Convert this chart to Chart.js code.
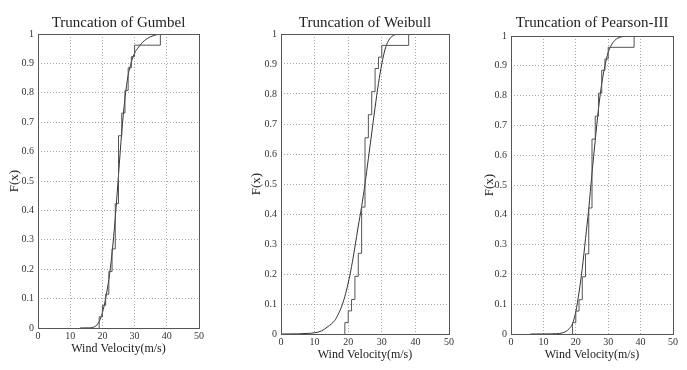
<!DOCTYPE html>
<html>
<head>
<meta charset="utf-8">
<script src="https://cdn.jsdelivr.net/npm/chart.js@4/dist/chart.umd.min.js"></script>
<style>
  html, body { margin: 0; padding: 0; background: #fff; }
  body { width: 687px; height: 370px; position: relative; overflow: hidden; }
  canvas { position: absolute; top: 0; }
</style>
</head>
<body>
<canvas id="gumbel" width="230" height="370" style="left:0px"></canvas>
<canvas id="weibull" width="230" height="370" style="left:230px"></canvas>
<canvas id="pearson" width="227" height="370" style="left:460px"></canvas>
<script>
// empirical distribution of the sample (same in all three panels)
const stepX = [19, 19, 20, 21, 22, 23, 24, 25, 26, 27, 28, 29, 30, 38]
const stepF = [0, 0.038, 0.077, 0.115, 0.192, 0.269, 0.423, 0.654, 0.731, 0.808, 0.885, 0.923, 0.962, 1]

// fitted (truncated) curves
const gumbelX = [13, 16, 17, 18, 19, 20, 21, 22, 23, 24, 25, 26, 27, 28, 29, 30, 31, 32, 33, 34, 35, 36, 37, 38, 40]
const gumbelF = [0, 0.0005, 0.002, 0.007, 0.022, 0.052, 0.1, 0.165, 0.255, 0.375, 0.52, 0.665, 0.78, 0.86, 0.905, 0.935, 0.952, 0.966, 0.977, 0.985, 0.991, 0.995, 0.998, 1, 1]

const weibullX = [0, 5, 8, 10, 12, 14, 16, 17, 18, 19, 20, 21, 22, 23, 24, 25, 26, 27, 28, 29, 30, 31, 32, 33, 34, 35, 36, 38]
const weibullF = [0, 0.0005, 0.002, 0.004, 0.01, 0.025, 0.045, 0.065, 0.09, 0.125, 0.17, 0.225, 0.29, 0.36, 0.425, 0.5, 0.585, 0.67, 0.755, 0.835, 0.9, 0.95, 0.978, 0.992, 0.998, 1, 1, 1]

const pearsonX = [6, 12, 14, 16, 17, 18, 19, 20, 21, 22, 23, 24, 25, 26, 27, 28, 29, 30, 31, 32, 33, 34, 35, 36, 38]
const pearsonF = [0, 0.0003, 0.001, 0.004, 0.009, 0.018, 0.035, 0.075, 0.14, 0.22, 0.32, 0.42, 0.54, 0.65, 0.755, 0.84, 0.9, 0.945, 0.97, 0.985, 0.993, 0.997, 0.999, 1, 1]

const xTicks = [0, 10, 20, 30, 40, 50]
const yTicks = [0, 0.1, 0.2, 0.3, 0.4, 0.5, 0.6, 0.7, 0.8, 0.9, 1]

const serif = "'Liberation Serif', 'DejaVu Serif', serif"

function toPoints(xs, ys) {
  return xs.map((x, i) => ({ x: x, y: ys[i] }))
}

// box around the plot area, like the matlab axes
const frame = {
  id: 'frame',
  afterDatasetsDraw(chart) {
    const { left, top, right, bottom } = chart.chartArea
    const ctx = chart.ctx
    ctx.save()
    ctx.strokeStyle = '#555'
    ctx.lineWidth = 1
    ctx.strokeRect(Math.round(left) + 0.5, Math.round(top) + 0.5, Math.round(right - left), Math.round(bottom - top))
    ctx.restore()
  }
}

function drawPanel(id, title, curveX, curveF, box) {
  return new Chart(document.getElementById(id), {
    type: 'scatter',
    data: {
      datasets: [
        {
          label: 'empirical',
          data: toPoints(stepX, stepF),
          showLine: true,
          // chart.js 'before': horizontal run first, then the jump
          stepped: 'before',
          borderColor: '#555',
          borderWidth: 1,
          pointRadius: 0
        },
        {
          label: 'fitted',
          data: toPoints(curveX, curveF),
          showLine: true,
          cubicInterpolationMode: 'monotone',
          borderColor: '#333',
          borderWidth: 1,
          pointRadius: 0
        }
      ]
    },
    options: {
      responsive: false,
      animation: false,
      devicePixelRatio: 1,
      layout: { padding: { left: 0, right: box.padRight, top: 0, bottom: 0 } },
      plugins: {
        legend: { display: false },
        tooltip: { enabled: false },
        title: {
          display: true,
          text: title,
          fullSize: false,
          color: '#222',
          font: { family: serif, size: 15, weight: 'normal' },
          padding: { top: box.titleTop, bottom: box.titleBottom }
        }
      },
      scales: {
        x: {
          type: 'linear',
          min: 0,
          max: 50,
          afterBuildTicks: (scale) => { scale.ticks = xTicks.map(v => ({ value: v })) },
          afterFit: (scale) => { scale.height = box.xHeight },
          ticks: { color: '#333', padding: 2, font: { family: serif, size: 10 } },
          grid: { color: '#a8a8a8', drawTicks: false },
          border: { display: false, dash: [1, 2] },
          title: {
            display: true,
            text: 'Wind Velocity(m/s)',
            color: '#222',
            font: { family: serif, size: 12 },
            padding: { top: 0, bottom: box.xTitlePad }
          }
        },
        y: {
          type: 'linear',
          min: 0,
          max: 1,
          afterBuildTicks: (scale) => { scale.ticks = yTicks.map(v => ({ value: v })) },
          afterFit: (scale) => { scale.width = box.yWidth },
          ticks: {
            color: '#333',
            padding: 4,
            font: { family: serif, size: 10 },
            callback: (v) => String(Math.round(v * 10) / 10)
          },
          grid: { color: '#a8a8a8', drawTicks: false },
          border: { display: false, dash: [1, 2] },
          title: {
            display: true,
            text: 'F(x)',
            color: '#222',
            font: { family: serif, size: 13 },
            padding: { top: box.yTitlePad, bottom: 0 }
          }
        }
      }
    },
    plugins: [frame]
  })
}

drawPanel('gumbel', 'Truncation of Gumbel', gumbelX, gumbelF,
  { padRight: 31, titleTop: 14, titleBottom: 2, xHeight: 42, xTitlePad: 14, yWidth: 38, yTitlePad: 7 })
drawPanel('weibull', 'Truncation of Weibull', weibullX, weibullF,
  { padRight: 11, titleTop: 14, titleBottom: 2, xHeight: 36, xTitlePad: 8, yWidth: 51, yTitlePad: 19 })
drawPanel('pearson', 'Truncation of Pearson-III', pearsonX, pearsonF,
  { padRight: 14, titleTop: 14, titleBottom: 4, xHeight: 36, xTitlePad: 8, yWidth: 51, yTitlePad: 22 })
</script>
</body>
</html>
